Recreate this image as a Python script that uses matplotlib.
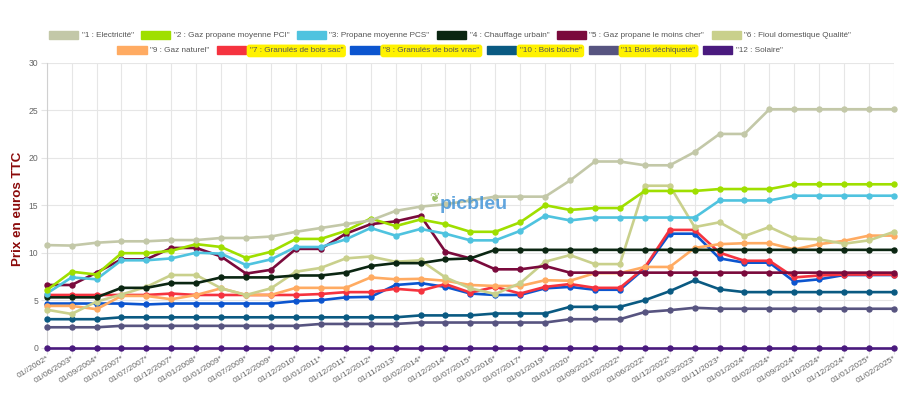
import numpy as np
import matplotlib.pyplot as plt
from matplotlib.patches import Patch

plt.rcParams['font.family'] = ['Liberation Sans', 'DejaVu Sans']

# x categories
dates = ["01//2002*", "01/06/2003*", "01/09/2004*", "01/01/2007*", "01/07/2007*",
         "01/12/2007*", "01/01/2008*", "01/01/2009*", "01/07/2009*", "01/12/2009*",
         "01/12/2010*", "01/01/2011*", "01/12/2011*", "01/12/2012*", "01/11/2013*",
         "01/02/2014*", "01/12/2014*", "01/07/2015*", "01/01/2016*", "01/07/2017*",
         "01/01/2019*", "01/01/2020*", "01/09/2021*", "01/02/2022*", "01/06/2022*",
         "01/12/2022*", "01/03/2023*", "01/11/2023*", "01/01/2024*", "01/02/2024*",
         "01/09/2024*", "01/10/2024*", "01/12/2024*", "01/01/2025*", "01/02/2025*"]

# prices in euros TTC
electricite = [10.8, 10.75, 11.05, 11.2, 11.2, 11.33, 11.33, 11.55, 11.55, 11.7,
               12.2, 12.6, 13.0, 13.4, 14.4, 14.85, 15.1, 15.5, 15.9, 15.9,
               15.9, 17.6, 19.6, 19.6, 19.2, 19.2, 20.6, 22.5, 22.5, 25.1,
               25.1, 25.1, 25.1, 25.1, 25.1]
propane_pci = [6.05, 8.0, 7.7, 9.95, 9.95, 10.2, 10.9, 10.6, 9.45, 10.1,
               11.45, 11.45, 12.3, 13.6, 12.8, 13.5, 13.0, 12.2, 12.2, 13.2,
               15.0, 14.5, 14.7, 14.7, 16.5, 16.5, 16.5, 16.7, 16.7, 16.7,
               17.2, 17.2, 17.2, 17.2, 17.2]
propane_pcs = [5.7, 7.4, 7.2, 9.2, 9.2, 9.4, 10.0, 9.9, 8.7, 9.3,
               10.6, 10.6, 11.4, 12.6, 11.8, 12.5, 12.0, 11.3, 11.3, 12.3,
               13.9, 13.4, 13.7, 13.7, 13.7, 13.7, 13.7, 15.5, 15.5, 15.5,
               16.0, 16.0, 16.0, 16.0, 16.0]
chauffage_urbain = [5.3, 5.3, 5.3, 6.3, 6.3, 6.8, 6.8, 7.4, 7.4, 7.4,
                    7.6, 7.6, 7.9, 8.6, 8.9, 8.9, 9.3, 9.4, 10.3, 10.3,
                    10.3, 10.3, 10.3, 10.3, 10.3, 10.3, 10.3, 10.3, 10.3, 10.3,
                    10.3, 10.3, 10.3, 10.3, 10.3]
propane_moins_cher = [6.6, 6.6, 7.9, 9.3, 9.3, 10.5, 10.5, 9.6, 7.8, 8.2,
                      10.4, 10.4, 12.0, 13.0, 13.3, 13.9, 10.1, 9.4, 8.25, 8.25,
                      8.6, 7.9, 7.9, 7.9, 7.9, 7.9, 7.9, 7.9, 7.9, 7.9,
                      7.9, 7.9, 7.9, 7.9, 7.9]
fioul = [4.0, 3.55, 4.85, 5.6, 6.4, 7.65, 7.65, 6.25, 5.55, 6.25,
         8.0, 8.4, 9.4, 9.6, 9.05, 9.2, 7.4, 6.25, 5.65, 6.8,
         9.05, 9.75, 8.8, 8.8, 17.05, 17.05, 12.7, 13.2, 11.75, 12.7,
         11.5, 11.4, 10.95, 11.3, 12.2]
gaz_naturel = [4.4, 4.4, 4.05, 5.45, 5.45, 5.1, 5.55, 6.25, 5.55, 5.55,
               6.3, 6.3, 6.3, 7.4, 7.2, 7.25, 7.05, 6.6, 6.5, 6.5,
               7.1, 7.05, 7.85, 7.85, 8.5, 8.5, 10.5, 10.9, 11.0, 11.0,
               10.35, 10.9, 11.25, 11.8, 11.8]
granules_sac = [5.55, 5.55, 5.55, 5.55, 5.55, 5.7, 5.55, 5.55, 5.55, 5.55,
                5.55, 5.65, 5.85, 5.85, 6.2, 6.0, 6.7, 5.8, 6.4, 5.7,
                6.4, 6.7, 6.3, 6.3, 8.45, 12.4, 12.4, 10.0, 9.15, 9.15,
                7.4, 7.6, 7.7, 7.7, 7.7]
granules_vrac = [4.65, 4.65, 4.65, 4.65, 4.55, 4.65, 4.65, 4.65, 4.65, 4.65,
                 4.9, 5.0, 5.3, 5.35, 6.6, 6.8, 6.4, 5.7, 5.55, 5.55,
                 6.25, 6.4, 6.1, 6.1, 8.35, 12.0, 12.0, 9.4, 8.95, 8.95,
                 6.95, 7.2, 7.65, 7.65, 7.65]
bois_buche = [3.0, 3.0, 3.0, 3.2, 3.2, 3.2, 3.2, 3.2, 3.2, 3.2,
              3.2, 3.2, 3.2, 3.2, 3.2, 3.4, 3.4, 3.4, 3.6, 3.6,
              3.6, 4.3, 4.3, 4.3, 5.0, 5.95, 7.1, 6.15, 5.85, 5.85,
              5.85, 5.85, 5.85, 5.85, 5.85]
bois_dechiquete = [2.15, 2.15, 2.15, 2.3, 2.3, 2.3, 2.3, 2.3, 2.3, 2.3,
                   2.3, 2.5, 2.5, 2.5, 2.5, 2.65, 2.65, 2.65, 2.65, 2.65,
                   2.65, 3.0, 3.0, 3.0, 3.75, 3.95, 4.2, 4.1, 4.1, 4.1,
                   4.1, 4.1, 4.1, 4.1, 4.1]
solaire = [0] * len(dates)

labels = ['"1 : Electricité"', '"2 : Gaz propane moyenne PCI"', '"3: Propane moyenne PCS"',
          '"4 : Chauffage urbain"', '"5 : Gaz propane le moins cher"', '"6 : Fioul domestique Qualité"',
          '"9 : Gaz naturel"', '"7 : Granulés de bois sac"', '"8 : Granulés de bois vrac"',
          '"10 : Bois bûche"', '"11 Bois déchiqueté"', '"12 : Solaire"']
series = [electricite, propane_pci, propane_pcs, chauffage_urbain, propane_moins_cher, fioul,
          gaz_naturel, granules_sac, granules_vrac, bois_buche, bois_dechiquete, solaire]
colors = ['#c3c8a8', '#9fdf00', '#4fc3df', '#0b2612', '#7a0a3c', '#c9d08c',
          '#ffab62', '#f5333f', '#0c55cf', '#0a5a82', '#575480', '#4a1a7e']
highlighted = [7, 8, 9, 10]

fig = plt.figure(figsize=(9, 3.97), dpi=100)
ax = fig.add_axes([46.7 / 900, 1 - 347.7 / 397, (894 - 46.7) / 900, (347.7 - 62.7) / 397])

x = np.arange(len(dates))
n = len(series)
for i in range(n - 1, -1, -1):
    ax.plot(x, series[i], color=colors[i], lw=1.9, marker='o', ms=3.6,
            zorder=3 + (n - i) * 0.1, clip_on=False)

ax.set_xlim(0, len(dates) - 1)
ax.set_ylim(0, 30)
ax.set_yticks(range(0, 31, 5))
ax.set_xticks(x)
ax.set_xticklabels(dates, rotation=32, ha='right', rotation_mode='anchor')
ax.tick_params(axis='x', labelsize=6.0, labelcolor='#666666', length=4, color='#e4e4e4', pad=1)
ax.tick_params(axis='y', labelsize=6.2, labelcolor='#666666', length=4, color='#e4e4e4', pad=2)
ax.grid(True, color='#e6e6e6', lw=0.8)
ax.set_axisbelow(True)
for s in ['top', 'right', 'bottom']:
    ax.spines[s].set_visible(False)
ax.spines['left'].set_color('#d0d0d0')
ax.spines['left'].set_linewidth(0.8)

fig.text(18 / 900, 1 - 209 / 397, 'Prix en euros TTC', rotation=90, color='#8b0a0a',
         fontsize=9.6, fontweight='bold', ha='center', va='center')

# watermark
fig.text(474 / 900, 1 - 205 / 397, 'picbleu', color='#3a8fd6', fontsize=14,
         fontweight='bold', ha='center', va='center', alpha=0.8, zorder=10)
fig.text(434 / 900, 1 - 199 / 397, '\u2766', color='#7fb040', fontsize=9,
         ha='center', va='center', alpha=0.8, zorder=10)

rows = [(range(0, 6), 1 - 35 / 397), (range(6, 12), 1 - 50 / 397)]
for idx, ypos in rows:
    handles = [Patch(facecolor=colors[i], edgecolor=colors[i]) for i in idx]
    leg = fig.legend(handles, [labels[i] for i in idx], loc='center', ncol=6,
                     bbox_to_anchor=(0.5, ypos), frameon=False, fontsize=5.9,
                     handlelength=3.6, handleheight=1.15, handletextpad=0.4,
                     columnspacing=0.9, borderpad=0, borderaxespad=0)
    for i, t in zip(idx, leg.get_texts()):
        t.set_color('#555555')
        if i in highlighted:
            t.set_bbox(dict(facecolor='#fff200', edgecolor='none',
                            boxstyle='round,pad=0.35'))

fig.savefig('out.png', dpi=100)
